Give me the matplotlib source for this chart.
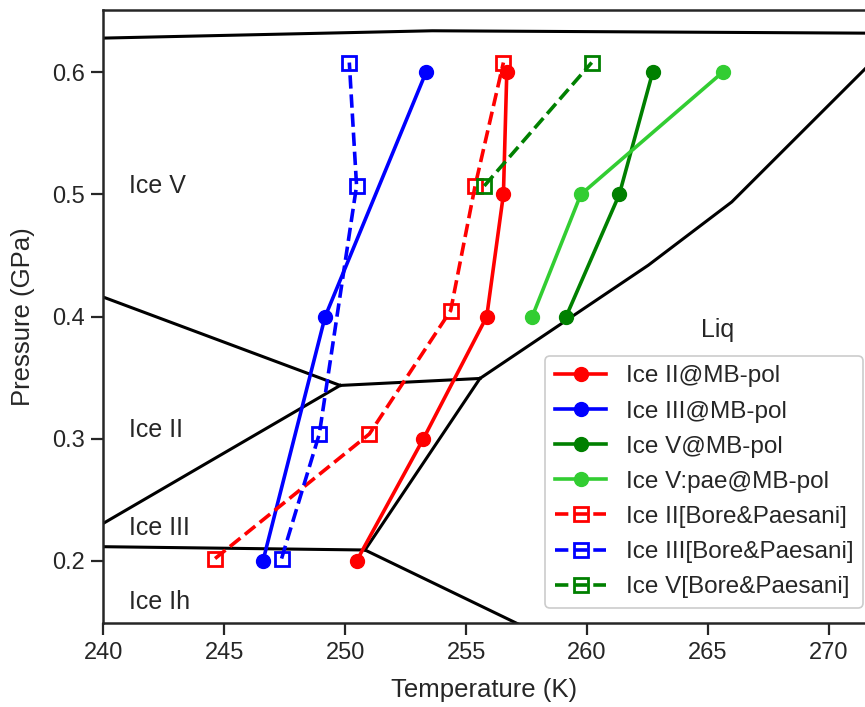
import matplotlib
matplotlib.use("Agg")
import matplotlib.pyplot as plt

plt.rcParams['font.family'] = ['Liberation Sans', 'DejaVu Sans']

# ---- data ----
P_mb = [0.2, 0.3, 0.4, 0.5, 0.6]
T_II_mb = [250.47, 253.23, 255.85, 256.54, 256.68]

P_III_mb = [0.2, 0.4, 0.6]
T_III_mb = [246.6, 249.17, 253.34]

P_V_mb = [0.4, 0.5, 0.6]
T_V_mb = [259.13, 261.33, 262.71]

P_Vpae_mb = [0.4, 0.5, 0.6]
T_Vpae_mb = [257.73, 259.74, 265.6]

P_II_bp = [0.202, 0.304, 0.405, 0.507, 0.608]
T_II_bp = [244.62, 251.0, 254.36, 255.37, 256.54]

P_III_bp = [0.202, 0.304, 0.507, 0.608]
T_III_bp = [247.37, 248.93, 250.47, 250.17]

P_V_bp = [0.507, 0.608]
T_V_bp = [255.75, 260.19]

# phase boundaries (T, P)
b_top_T = [240.0, 253.6, 272.0]
b_top_P = [0.628, 0.634, 0.632]
b_IIV_T = [240.0, 249.79]
b_IIV_P = [0.416, 0.3437]
b_IIIII_T = [240.0, 249.79]
b_IIIII_P = [0.2308, 0.3437]
b_VIII_T = [249.79, 255.57]
b_VIII_P = [0.3437, 0.3494]
b_IIIliq_T = [255.57, 250.82]
b_IIIliq_P = [0.3494, 0.209]
b_IhIII_T = [240.0, 250.82]
b_IhIII_P = [0.2117, 0.209]
b_Ihliq_T = [250.82, 257.3]
b_Ihliq_P = [0.209, 0.147]
b_Vliq_T = [255.57, 262.53, 265.98, 271.5, 272.0]
b_Vliq_P = [0.3494, 0.4421, 0.4939, 0.603, 0.613]

phase_labels = ["Ice V", "Ice II", "Ice III", "Ice Ih", "Liq"]
phase_T = [241.06, 241.06, 241.06, 241.06, 264.7]
phase_P = [0.5067, 0.307, 0.227, 0.1665, 0.389]

# ---- figure ----
W, H = 865, 707
fig = plt.figure(figsize=(W / 100, H / 100), dpi=100)
ax = fig.add_axes([103.3 / W, (H - 623.3) / H, (865.3 - 103.3) / W, (623.3 - 10) / H])

bk = dict(color='black', lw=2.2, zorder=1)
for T, P in [(b_top_T, b_top_P), (b_IIV_T, b_IIV_P), (b_IIIII_T, b_IIIII_P),
             (b_VIII_T, b_VIII_P), (b_IIIliq_T, b_IIIliq_P), (b_IhIII_T, b_IhIII_P),
             (b_Ihliq_T, b_Ihliq_P), (b_Vliq_T, b_Vliq_P)]:
    ax.plot(T, P, **bk)

lw = 2.6
ms = 10
ax.plot(T_II_mb, P_mb, '-o', color='red', lw=lw, ms=ms, label='Ice II@MB-pol', zorder=3)
ax.plot(T_III_mb, P_III_mb, '-o', color='blue', lw=lw, ms=ms, label='Ice III@MB-pol', zorder=3)
ax.plot(T_V_mb, P_V_mb, '-o', color='green', lw=lw, ms=ms, label='Ice V@MB-pol', zorder=3)
ax.plot(T_Vpae_mb, P_Vpae_mb, '-o', color='limegreen', lw=lw, ms=ms, label='Ice V:pae@MB-pol', zorder=3)
ax.plot(T_II_bp, P_II_bp, '--s', color='red', lw=lw, ms=ms, mfc='none', mew=2,
        label='Ice II[Bore&Paesani]', zorder=3)
ax.plot(T_III_bp, P_III_bp, '--s', color='blue', lw=lw, ms=ms, mfc='none', mew=2,
        label='Ice III[Bore&Paesani]', zorder=3)
ax.plot(T_V_bp, P_V_bp, '--s', color='green', lw=lw, ms=ms, mfc='none', mew=2,
        label='Ice V[Bore&Paesani]', zorder=3)

for s, t, p in zip(phase_labels, phase_T, phase_P):
    ax.text(t, p, s, fontsize=18, color='#262626', ha='left', va='center')

ax.set_xlim(240, 271.5)
ax.set_ylim(0.149, 0.651)
ax.set_xticks([240, 245, 250, 255, 260, 265, 270])
ax.set_yticks([0.2, 0.3, 0.4, 0.5, 0.6])
ax.set_xlabel('Temperature (K)', fontsize=18.5, color='#262626', labelpad=10)
ax.set_ylabel('Pressure (GPa)', fontsize=18.5, color='#262626', labelpad=12)
ax.tick_params(axis='both', labelsize=17, length=8.5, width=1.6, color='#262626',
               labelcolor='#262626', direction='out', pad=5)
for side in ['left', 'bottom', 'top']:
    ax.spines[side].set_linewidth(1.8)
    ax.spines[side].set_color('#262626')
ax.spines['right'].set_visible(False)

leg = ax.legend(loc='lower right', bbox_to_anchor=(863 / W, (H - 608) / H),
                bbox_transform=fig.transFigure, borderaxespad=0, fontsize=17.5,
                labelspacing=0.54, handlelength=2.1, handletextpad=0.8,
                frameon=True, fancybox=True, edgecolor='#cccccc', framealpha=1)
leg.get_frame().set_linewidth(1.2)
for t in leg.get_texts():
    t.set_color('#262626')

fig.savefig('out.png', dpi=100)
